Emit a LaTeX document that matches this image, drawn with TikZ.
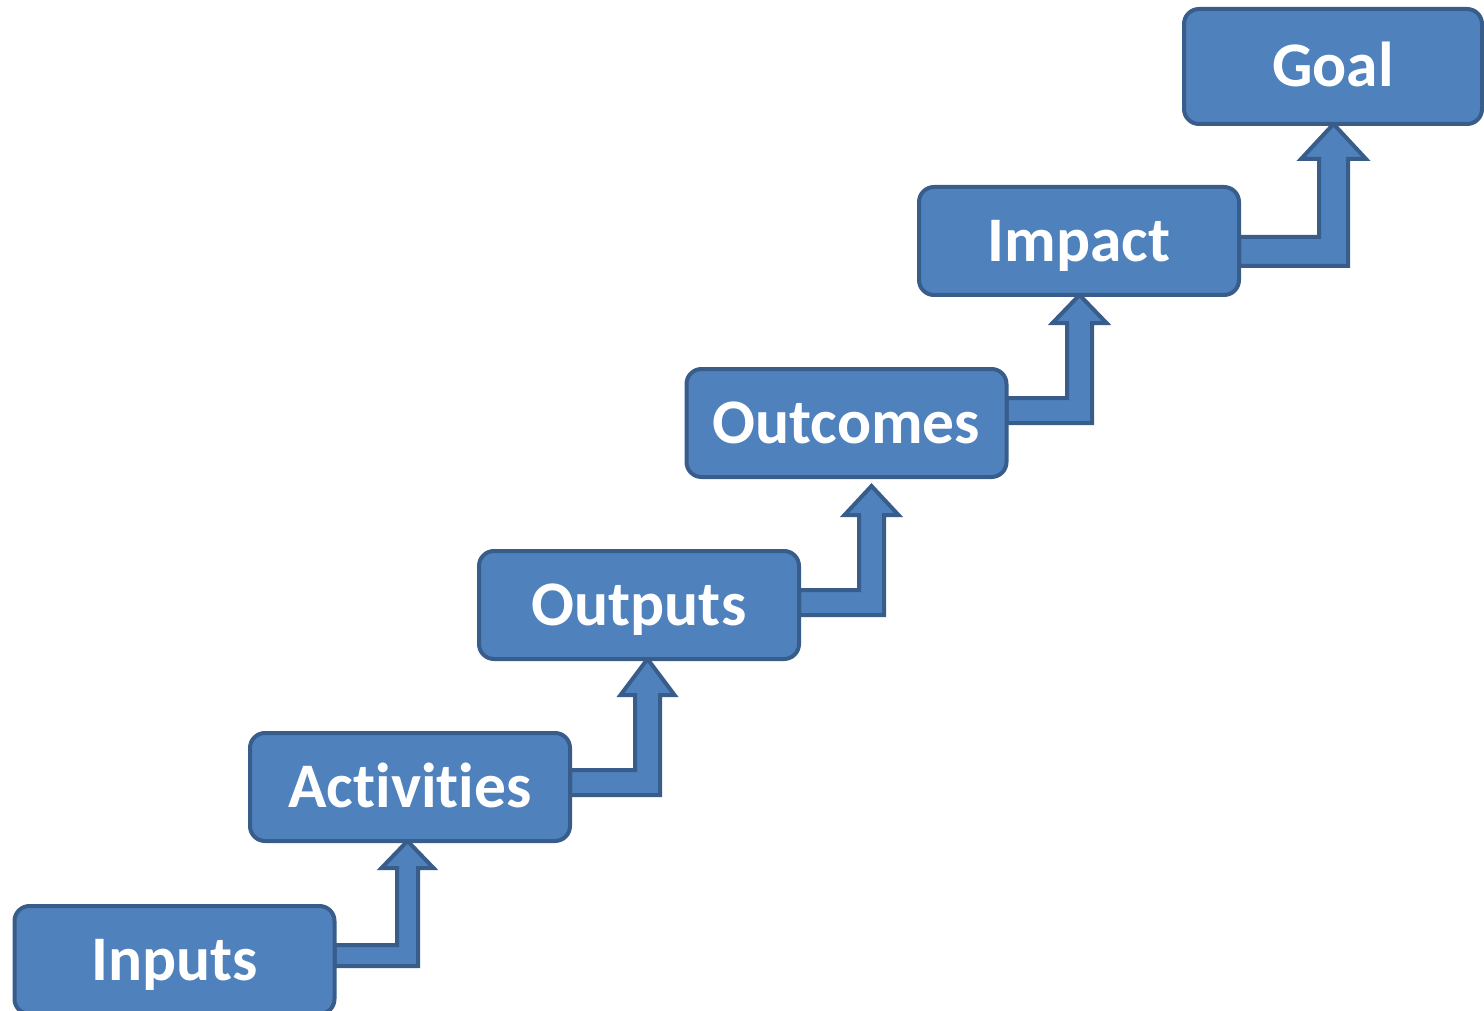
\documentclass[tikz,border=0pt]{standalone}
\usepackage{fontspec}
\setmainfont[Ligatures=NoCommon]{Carlito}
\usetikzlibrary{calc,backgrounds}
\definecolor{boxfill}{HTML}{4F81BD}
\definecolor{boxline}{HTML}{385D8A}
% #1 from, #2 to, #3 shaft x, #4 shaft y, #5 half width, #6 head half width, #7 head base y, #8 gap at tip
\newcommand\stepup[8]{%
  \pgfmathsetmacro\sxl{#3-#5}\pgfmathsetmacro\sxr{#3+#5}%
  \pgfmathsetmacro\syt{#4-#5}\pgfmathsetmacro\syb{#4+#5}%
  \pgfmathsetmacro\hxl{#3-#6}\pgfmathsetmacro\hxr{#3+#6}%
  \draw[S] (#1.east |- 0,\syt) -- (\sxl,\syt) -- (\sxl,#7) -- (\hxl,#7)
     -- ($(#3,0 |- #2.south)+(0,#8)$) -- (\hxr,#7) -- (\sxr,#7)
     -- (\sxr,\syb) -- (#1.east |- 0,\syb) -- cycle;}
\begin{document}
\begin{tikzpicture}[
x=1pt, y=-1pt,
    B/.style = {rectangle, draw=boxline, fill=boxfill,% boxes of the steps
                line width=4pt, rounded corners=15pt,
                minimum width=320pt, minimum height=108pt,
                inner sep=0pt, outer sep=0pt,
                text=white, text height=41pt, text depth=0pt,
                font=\fontsize{63.5}{70}\selectfont\bfseries},
    S/.style = {draw=boxline, fill=boxfill, line width=4pt},% bent arrows
                        ]
\useasboundingbox (0,0) rectangle (1484,1011);
\node[B] (inp)  at (174.5,960)  {Inputs};
\node[B] (act)  at (410,787)    {Activities};
\node[B] (out)  at (639,605)    {Outputs};
\node[B] (outc) at (846.5,423)  {Outcomes};
\node[B] (imp)  at (1079,241)   {Impact};
\node[B, minimum width=298pt, minimum height=115pt] (goal) at (1333,66.5) {Goal};
\begin{scope}[on background layer]
\stepup{inp}{act}{407.5}{955.5}{10.5}{26}{868}{0}
\stepup{act}{out}{647.5}{782.5}{12.5}{27}{695}{0}
\stepup{out}{outc}{871.5}{602.5}{12.5}{27}{515}{9}
\stepup{outc}{imp}{1079.5}{410.5}{12.5}{27}{323}{0}
\stepup{imp}{goal}{1333.5}{251.5}{14.5}{32.5}{159}{0}
\end{scope}
\end{tikzpicture}
\end{document}
